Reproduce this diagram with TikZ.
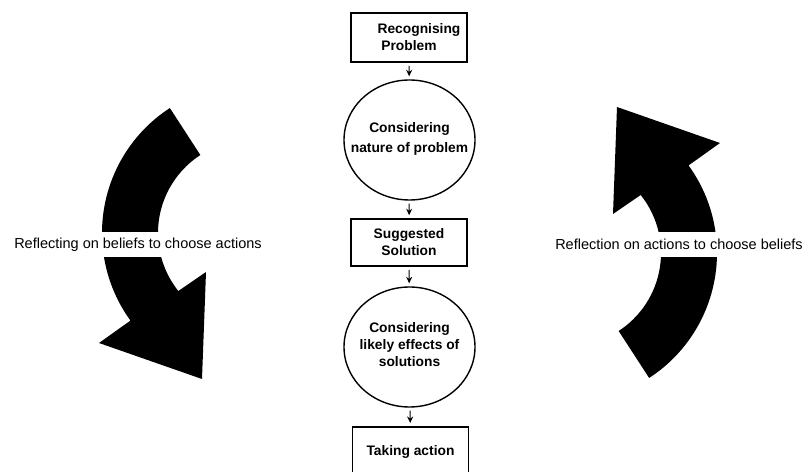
\documentclass[tikz,border=0pt]{standalone}
\usepackage{fontspec}
\setmainfont{Liberation Sans}
\usetikzlibrary{calc,arrows.meta,shapes.geometric}
\newcommand{\ctext}[1]{\makebox[0pt]{\smash{\begin{tabular}{@{}c@{}}#1\end{tabular}}}}
\tikzset{
  stepbox/.style={draw, line width=1.6pt, minimum width=116pt, inner sep=0pt, align=center, font=\fontsize{13.8}{17}\selectfont\bfseries},
  stepcirc/.style={draw, ellipse, line width=1.4pt, minimum width=131pt, minimum height=120pt, inner sep=0pt, font=\fontsize{13.8}{17}\selectfont\bfseries},
  flow/.style={-{Stealth[length=6.5pt,width=6pt]}, line width=1pt, shorten >=3pt, shorten <=3pt},
  sidelabel/.style={fill=white, inner sep=1pt, minimum height=25pt, font=\fontsize{14.5}{17}\selectfont},
  bigarrow/.style={fill=black}
}
\begin{document}
\begin{tikzpicture}[x=1pt,y=1pt]
\useasboundingbox (0,0) rectangle (808,471);
% curved arrows
\coordinate (lc) at (251,238);
\coordinate (rc) at (568,218);
\fill[bigarrow] ($(lc)+(123:149pt)$) arc[start angle=123,end angle=216,radius=149pt]
  -- (99,128) -- (202,92) -- (206,199) -- ($(lc)+(218.6:93pt)$)
  arc[start angle=218.6,end angle=123,radius=93pt] -- cycle;
\fill[bigarrow] ($(rc)+(303:149pt)$) arc[start angle=303,end angle=396,radius=149pt]
  -- (720,328) -- (617,364) -- (613,257) -- ($(rc)+(398.6:93pt)$)
  arc[start angle=398.6,end angle=303,radius=93pt] -- cycle;
\node[sidelabel] (ll) at (138,226.5) {Reflecting on beliefs to choose actions};
\node[sidelabel] (rl) at (679,226.5) {Reflection on actions to choose beliefs};
% flow
\node[stepbox, minimum height=49pt] (b1) at (409,433.5) {\hspace*{20pt}Recognising\\Problem};
\node[stepcirc] (c1) at (409.5,331) {\raisebox{-5pt}{\ctext{Considering\\[3pt]nature of problem}}};
\node[stepbox, minimum height=47pt] (b2) at (409,228.5) {Suggested\\Solution};
\node[stepcirc] (c2) at (409.5,124) {\raisebox{-5pt}{\ctext{Considering\\likely effects of\\solutions}}};
\node[stepbox, minimum height=50pt, anchor=north] (b3) at (410.5,45) {Taking action};
\draw[flow] (b1) -- (c1);
\draw[flow] (c1) -- (b2);
\draw[flow] (b2) -- (c2);
\draw[flow] (c2) -- (b3);
\end{tikzpicture}
\end{document}
